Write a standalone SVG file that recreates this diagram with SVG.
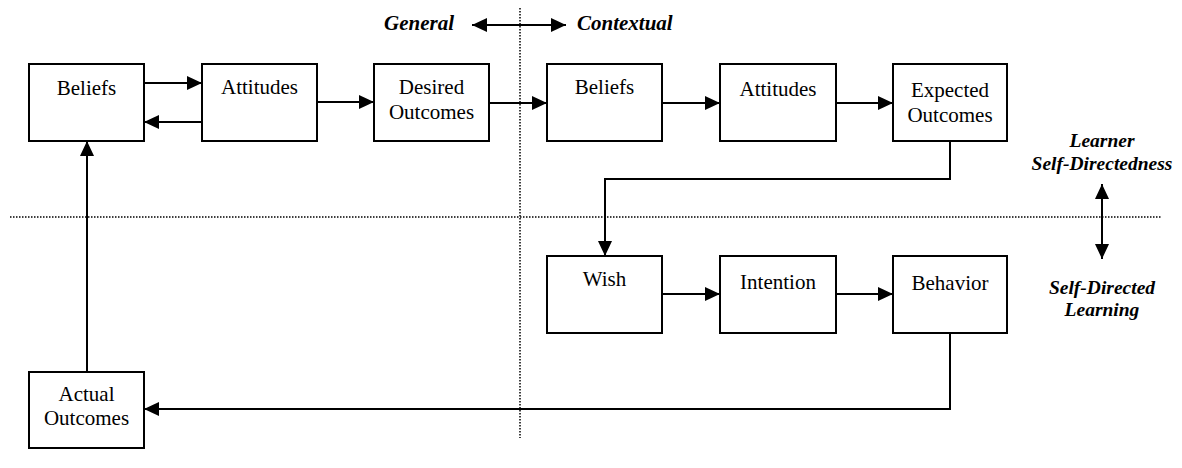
<svg xmlns="http://www.w3.org/2000/svg" width="1182" height="468" viewBox="0 0 1182 468">
<style>
.box{fill:#fff;stroke:#000;stroke-width:2}
.t{font-family:"Liberation Serif","Times New Roman",serif;font-size:21px;fill:#000;text-anchor:middle}
.lbl{font-family:"Liberation Serif","Times New Roman",serif;font-size:21px;font-weight:bold;font-style:italic;fill:#000}
.lbl2{font-family:"Liberation Serif","Times New Roman",serif;font-size:19.5px;font-weight:bold;font-style:italic;fill:#000;text-anchor:middle}
.c{fill:none;stroke:#000;stroke-width:2;marker-end:url(#ah)}
.cn{fill:none;stroke:#000;stroke-width:2}
.d{fill:none;stroke:#000;stroke-width:1.5;stroke-dasharray:1.5 1.5}
</style>
<defs>
<marker id="ah" markerUnits="userSpaceOnUse" markerWidth="15" markerHeight="14" refX="15" refY="7" orient="auto-start-reverse" viewBox="0 0 15 14">
<path d="M0,0 L15,7 L0,14 z" fill="#000"/>
</marker>
</defs>
<g id="dividers">
<line class="d" x1="520" y1="8" x2="520" y2="438"/>
<line class="d" x1="10" y1="217" x2="1161" y2="217"/>
</g>
<g id="connectors">
<line class="c" x1="144" y1="83" x2="202" y2="83"/>
<line class="c" x1="202" y1="122" x2="144" y2="122"/>
<line class="c" x1="317" y1="102" x2="374" y2="102"/>
<line class="c" x1="489" y1="103" x2="547" y2="103"/>
<line class="c" x1="662" y1="103" x2="720" y2="103"/>
<line class="c" x1="836" y1="103" x2="893" y2="103"/>
<polyline class="c" points="950,141 950,179 605,179 605,256"/>
<line class="c" x1="662" y1="294" x2="720" y2="294"/>
<line class="c" x1="836" y1="294" x2="893" y2="294"/>
<polyline class="c" points="950,333 950,409 144,409"/>
<line class="c" x1="87" y1="372" x2="87" y2="141"/>
<line class="c" x1="472" y1="25" x2="566" y2="25" style="marker-start:url(#ah)"/>
<line class="c" x1="1102" y1="184" x2="1102" y2="259" style="marker-start:url(#ah)"/>
</g>
<g id="beliefs1"><rect class="box" x="29" y="64" width="115" height="77"/><text class="t" x="86.5" y="95">Beliefs</text></g>
<g id="attitudes1"><rect class="box" x="202" y="64" width="115" height="77"/><text class="t" x="259.5" y="94">Attitudes</text></g>
<g id="desired"><rect class="box" x="374" y="64" width="115" height="77"/><text class="t" x="431.5" y="94">Desired</text><text class="t" x="431.5" y="119">Outcomes</text></g>
<g id="beliefs2"><rect class="box" x="547" y="64" width="115" height="77"/><text class="t" x="604.5" y="94">Beliefs</text></g>
<g id="attitudes2"><rect class="box" x="720" y="64" width="116" height="77"/><text class="t" x="778" y="96">Attitudes</text></g>
<g id="expected"><rect class="box" x="893" y="64" width="114" height="77"/><text class="t" x="950" y="97">Expected</text><text class="t" x="950" y="122">Outcomes</text></g>
<g id="wish"><rect class="box" x="547" y="256" width="115" height="77"/><text class="t" x="604.5" y="286">Wish</text></g>
<g id="intention"><rect class="box" x="720" y="256" width="116" height="77"/><text class="t" x="778" y="289">Intention</text></g>
<g id="behavior"><rect class="box" x="893" y="256" width="114" height="77"/><text class="t" x="950" y="290">Behavior</text></g>
<g id="actual"><rect class="box" x="29" y="372" width="115" height="76"/><text class="t" x="86.5" y="401">Actual</text><text class="t" x="86.5" y="425">Outcomes</text></g>
<g id="labels">
<text class="lbl" x="384" y="30">General</text>
<text class="lbl" x="577" y="30">Contextual</text>
<text class="lbl2" x="1102" y="147">Learner</text>
<text class="lbl2" x="1102" y="170">Self-Directedness</text>
<text class="lbl2" x="1102" y="294">Self-Directed</text>
<text class="lbl2" x="1102" y="316">Learning</text>
</g>
</svg>
